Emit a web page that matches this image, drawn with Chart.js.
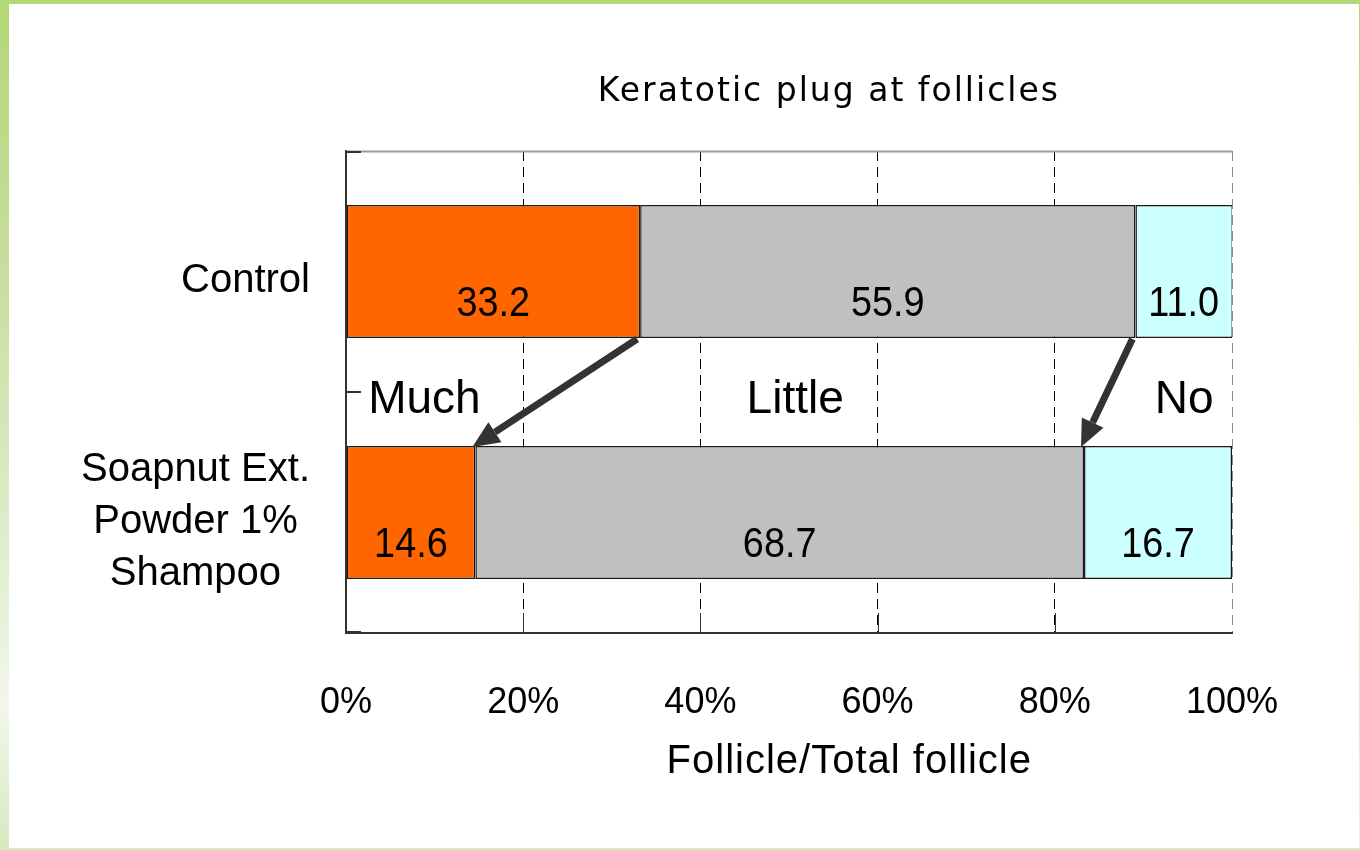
<!DOCTYPE html>
<html>
<head>
<meta charset="utf-8">
<title>Keratotic plug at follicles</title>
<script src="https://cdn.jsdelivr.net/npm/chart.js@4/dist/chart.umd.min.js"></script>
<style>
  html, body { margin: 0; padding: 0; background: #ffffff; }
  #wrap { position: relative; width: 1360px; height: 850px; overflow: hidden; background: #ffffff; }
  #wrap canvas { position: absolute; left: 0; top: 0; }
  .edge { position: absolute; }
  #edgeTop { left: 0; top: 0; width: 1360px; height: 4px; background: #b5d87a; }
  #edgeLeft { left: 0; top: 0; width: 9px; height: 850px;
    background: linear-gradient(#b3d776 0%, #c6dd9c 30%, #dcebc6 60%, #f1f7ea 83%, #d8e8c0 100%); }
  #edgeBottom { left: 0; top: 848px; width: 1360px; height: 2px; background: #d8e8c0; }
  #edgeRight { left: 1359px; top: 0; width: 1px; height: 850px; background: linear-gradient(#b5d87a, #e8f2dc); }
</style>
</head>
<body>
<div id="wrap">
  <canvas id="chart" width="1360" height="850"></canvas>
  <div class="edge" id="edgeTop"></div>
  <div class="edge" id="edgeLeft"></div>
  <div class="edge" id="edgeBottom"></div>
  <div class="edge" id="edgeRight"></div>
</div>
<script>
// Share of follicles (%) by amount of keratotic plug
const categories = ['Control', ['Soapnut Ext.', 'Powder 1%', 'Shampoo']];
const seriesNames = ['Much', 'Little', 'No'];
const muchValues = [33.2, 14.6];
const littleValues = [55.9, 68.7];
const noValues = [11.0, 16.7];
const xTickLabels = ['0%', '20%', '40%', '60%', '80%', '100%'];
const chartTitle = 'Keratotic plug at follicles';
const xAxisTitle = 'Follicle/Total follicle';

const seriesColors = ['#FF6600', '#C0C0C0', '#CCFFFF'];
const LABEL_FONT = "'Liberation Sans', Arial, sans-serif";

// Where each series name sits in the gap between the two bars (axis units, with alignment)
const seriesNameAnchors = [
  { at: 2.5, align: 'left' },
  { at: 50.7, align: 'center' },
  { at: 94.6, align: 'center' }
];

function drawArrow(ctx, x1, y1, x2, y2) {
  const ang = Math.atan2(y2 - y1, x2 - x1);
  const headLen = 27, headHalf = 12;
  const bx = x2 - headLen * Math.cos(ang);
  const by = y2 - headLen * Math.sin(ang);
  ctx.save();
  ctx.strokeStyle = '#333333';
  ctx.fillStyle = '#333333';
  ctx.lineWidth = 7;
  ctx.lineCap = 'butt';
  ctx.beginPath();
  ctx.moveTo(x1, y1);
  ctx.lineTo(bx, by);
  ctx.stroke();
  ctx.beginPath();
  ctx.moveTo(x2, y2);
  ctx.lineTo(bx + headHalf * Math.sin(ang), by - headHalf * Math.cos(ang));
  ctx.lineTo(bx - headHalf * Math.sin(ang), by + headHalf * Math.cos(ang));
  ctx.closePath();
  ctx.fill();
  ctx.restore();
}

const annotatePlugin = {
  id: 'annotate',
  beforeDatasetsDraw(chart) {
    const { ctx, chartArea: a } = chart;
    ctx.save();
    // gray frame line along the top of the plot
    ctx.strokeStyle = '#9a9a9a';
    ctx.lineWidth = 2;
    ctx.beginPath();
    ctx.moveTo(a.left, a.top + 0.5);
    ctx.lineTo(a.right, a.top + 0.5);
    ctx.stroke();
    ctx.restore();
  },
  afterDatasetsDraw(chart) {
    const { ctx, chartArea: a, scales: { x, y } } = chart;
    const metas = [0, 1, 2].map(i => chart.getDatasetMeta(i));

    // inward tick marks on both axes
    ctx.save();
    ctx.strokeStyle = '#333333';
    ctx.lineWidth = 2;
    const yc0 = y.getPixelForValue(0), yc1 = y.getPixelForValue(1);
    [a.top + 1, (yc0 + yc1) / 2, a.bottom - 1].forEach(py => {
      ctx.beginPath();
      ctx.moveTo(a.left, py);
      ctx.lineTo(a.left + 15, py);
      ctx.stroke();
    });
    ctx.lineWidth = 1;
    x.ticks.forEach((t, i) => {
      if (i === 0 || i === x.ticks.length - 1) return;
      const px = Math.round(x.getPixelForTick(i)) + 0.5;
      ctx.beginPath();
      ctx.moveTo(px, a.bottom);
      ctx.lineTo(px, a.bottom - 20);
      ctx.stroke();
    });
    ctx.restore();

    // value labels in the lower half of each segment (slightly condensed digits)
    ctx.save();
    ctx.fillStyle = '#000000';
    ctx.font = '43px ' + LABEL_FONT;
    ctx.textAlign = 'center';
    ctx.textBaseline = 'alphabetic';
    metas.forEach((meta, di) => {
      meta.data.forEach((el, j) => {
        const p = el.getProps(['x', 'y', 'base', 'height'], true);
        const v = chart.data.datasets[di].data[j];
        const right = Math.min(p.x, a.right);
        ctx.save();
        ctx.translate((right + p.base) / 2, p.y + p.height / 2 - 22);
        ctx.scale(0.88, 1);
        ctx.fillText(v.toFixed(1), 0, 0);
        ctx.restore();
      });
    });
    ctx.restore();

    // series names between the bars
    const c0 = metas[0].data[0].getProps(['y', 'height'], true);
    const c1 = metas[0].data[1].getProps(['y', 'height'], true);
    const gapMid = ((c0.y + c0.height / 2) + (c1.y - c1.height / 2)) / 2;
    ctx.save();
    ctx.fillStyle = '#000000';
    ctx.font = '46px ' + LABEL_FONT;
    ctx.textBaseline = 'alphabetic';
    seriesNames.forEach((name, i) => {
      const an = seriesNameAnchors[i];
      ctx.textAlign = an.align;
      ctx.fillText(name, x.getPixelForValue(an.at), gapMid + 21);
    });
    ctx.restore();

    // arrows from the Control boundaries to the matching Soapnut boundaries
    [0, 1].forEach(k => {
      const top = metas[k].data[0].getProps(['x', 'y', 'height'], true);
      const bot = metas[k].data[1].getProps(['x', 'y', 'height'], true);
      drawArrow(ctx,
        top.x - 3, top.y + top.height / 2 + 1,
        bot.x - 3, bot.y - bot.height / 2 + 1);
    });
  },
  afterDraw(chart) {
    const { ctx, chartArea: a, scales: { y } } = chart;
    ctx.save();
    ctx.fillStyle = '#000000';
    ctx.textBaseline = 'alphabetic';

    // chart title
    ctx.font = "33px 'DejaVu Sans', sans-serif";
    ctx.letterSpacing = '2px';
    ctx.textAlign = 'center';
    ctx.fillText(chartTitle, a.left + (a.right - a.left) * 0.545, a.top - 50);

    // x axis title
    ctx.font = '40px ' + LABEL_FONT;
    ctx.letterSpacing = '1px';
    ctx.fillText(xAxisTitle, a.left + (a.right - a.left) * 0.568, a.bottom + 140);
    ctx.letterSpacing = '0px';

    // category labels: each block right-aligned to the axis, lines centred in the block
    ctx.font = '40px ' + LABEL_FONT;
    ctx.textAlign = 'center';
    const lineGap = 52;
    categories.forEach((cat, i) => {
      const lines = Array.isArray(cat) ? cat : [cat];
      const widest = Math.max(...lines.map(s => ctx.measureText(s).width));
      const cx = a.left - 36 - widest / 2;
      const cy = y.getPixelForValue(i);
      lines.forEach((s, li) => {
        ctx.fillText(s, cx, cy + 20 + (li - (lines.length - 1) / 2) * lineGap);
      });
    });
    ctx.restore();
  }
};

const makeSet = (label, data, color) => ({
  label,
  data,
  backgroundColor: color,
  borderColor: '#1a1a1a',
  borderWidth: 1.5,
  borderSkipped: false,
  barPercentage: 1,
  categoryPercentage: 0.552
});

new Chart(document.getElementById('chart'), {
  type: 'bar',
  data: {
    labels: categories,
    datasets: [
      makeSet(seriesNames[0], muchValues, seriesColors[0]),
      makeSet(seriesNames[1], littleValues, seriesColors[1]),
      makeSet(seriesNames[2], noValues, seriesColors[2])
    ]
  },
  options: {
    indexAxis: 'y',
    responsive: false,
    animation: false,
    layout: { padding: { top: 151, right: 128, bottom: 0, left: 0 } },
    plugins: {
      legend: { display: false },
      tooltip: { enabled: false },
      title: { display: false }
    },
    scales: {
      x: {
        stacked: true,
        min: 0,
        max: 100,
        ticks: {
          stepSize: 20,
          padding: 48,
          color: '#000000',
          font: { family: LABEL_FONT, size: 36 },
          maxRotation: 0,
          autoSkip: false,
          callback: (v, i) => xTickLabels[i]
        },
        grid: {
          drawTicks: false,
          lineWidth: 1,
          color: ctx => {
            const n = xTickLabels.length - 1;
            if (ctx.index === 0) return 'rgba(0,0,0,0)';
            if (ctx.index === n) return '#8a8a8a';
            return '#000000';
          }
        },
        border: { display: true, color: '#333333', width: 2, dash: [10, 6] },
        afterFit: s => { s.height = 217; }
      },
      y: {
        stacked: true,
        ticks: { display: false },
        grid: { display: false, drawTicks: false },
        border: { display: true, color: '#333333', width: 2 },
        afterFit: s => { s.width = 346; }
      }
    }
  },
  plugins: [annotatePlugin]
});
</script>
</body>
</html>
